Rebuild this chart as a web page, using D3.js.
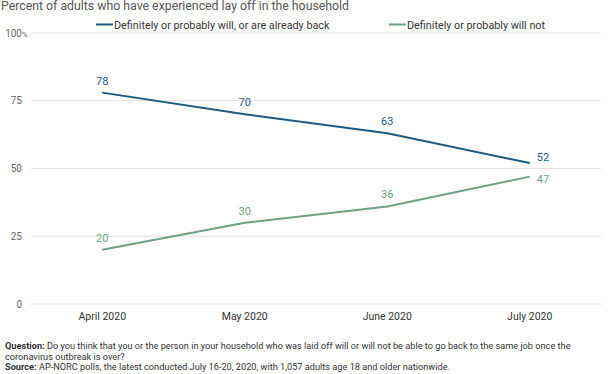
<!DOCTYPE html>
<html>
<head>
<meta charset="utf-8">
<script src="https://cdn.jsdelivr.net/npm/d3@7"></script>
<style>
  body { margin: 0; background: #fff; }
  svg { display: block; font-family: Roboto, "Noto Sans", sans-serif; }
</style>
</head>
<body>
<svg id="chart" width="612" height="374"></svg>
<script>
// data
const months = ['April 2020', 'May 2020', 'June 2020', 'July 2020'];
const willBack = [78, 70, 63, 52];
const willNot = [20, 30, 36, 47];
const yTicks = [0, 25, 50, 75, 100];
const seriesNames = ['Definitely or probably will, or are already back', 'Definitely or probably will not'];
const seriesColors = ['#1d5a80', '#6ca283'];

const svg = d3.select('#chart');

const x = d3.scalePoint().domain(months).range([31, 601]).padding(0.5);
const y = d3.scaleLinear().domain([0, 100]).range([304, 33]);

// title
svg.append('text')
  .attr('x', 1).attr('y', 10)
  .attr('font-size', 12.3).attr('fill', '#555')
  .text('Percent of adults who have experienced lay off in the household');

// grid + y labels
svg.append('g').selectAll('line')
  .data(yTicks).enter().append('line')
  .attr('x1', 31).attr('x2', 601)
  .attr('y1', d => y(d)).attr('y2', d => y(d))
  .attr('stroke', '#e2e2e2').attr('stroke-width', 1);

svg.append('g').selectAll('text')
  .data(yTicks).enter().append('text')
  .attr('x', 22).attr('y', d => y(d) + 3.5)
  .attr('text-anchor', 'end')
  .attr('font-size', 10).attr('fill', '#666')
  .text(d => d);
svg.append('text')
  .attr('x', 22).attr('y', y(100) + 3.5)
  .attr('font-size', 7.5).attr('fill', '#666')
  .text('%');

// x labels
svg.append('g').selectAll('text')
  .data(months).enter().append('text')
  .attr('x', d => x(d)).attr('y', 320)
  .attr('text-anchor', 'middle')
  .attr('font-size', 10.5).attr('fill', '#333')
  .text(d => d);

// lines
const series = [willBack, willNot];
const line = d3.line()
  .x((d, i) => x(months[i]))
  .y(d => y(d));

series.forEach(function (vals, s) {
  svg.append('path')
    .datum(vals)
    .attr('d', line)
    .attr('fill', 'none')
    .attr('stroke', seriesColors[s])
    .attr('stroke-width', 2)
    .attr('stroke-linejoin', 'round');

  svg.append('g').selectAll('text')
    .data(vals).enter().append('text')
    .attr('x', (d, i) => i == vals.length - 1 ? x(months[i]) + 7 : x(months[i]))
    .attr('y', function (d, i) {
      if (i < vals.length - 1) return y(d) - 8;
      return s == 0 ? y(d) - 2 : y(d) + 6;
    })
    .attr('text-anchor', (d, i) => i == vals.length - 1 ? 'start' : 'middle')
    .attr('font-size', 11).attr('fill', seriesColors[s])
    .text(d => d);
});

// legend
const legendX = [96, 389];
seriesNames.forEach(function (name, s) {
  svg.append('line')
    .attr('x1', legendX[s]).attr('x2', legendX[s] + 17)
    .attr('y1', 24.5).attr('y2', 24.5)
    .attr('stroke', seriesColors[s]).attr('stroke-width', 2);
  svg.append('text')
    .attr('x', legendX[s] + 18).attr('y', 28.5)
    .attr('font-size', 10.8).attr('fill', '#333')
    .text(name);
});

// notes
const notes = [
  [['Question: ', true], ['Do you think that you or the person in your household who was laid off will or will not be able to go back to the same job once the', false]],
  [['coronavirus outbreak is over?', false]],
  [['Source: ', true], ['AP-NORC polls, the latest conducted July 16-20, 2020, with 1,057 adults age 18 and older nationwide.', false]]
];
notes.forEach(function (parts, i) {
  let t = svg.append('text')
    .attr('x', 5).attr('y', 349 + i * 10.5)
    .attr('font-size', 9.2).attr('fill', '#333');
  parts.forEach(function (p) {
    t.append('tspan').attr('font-weight', p[1] ? 'bold' : 'normal').text(p[0]);
  });
});
</script>
</body>
</html>
